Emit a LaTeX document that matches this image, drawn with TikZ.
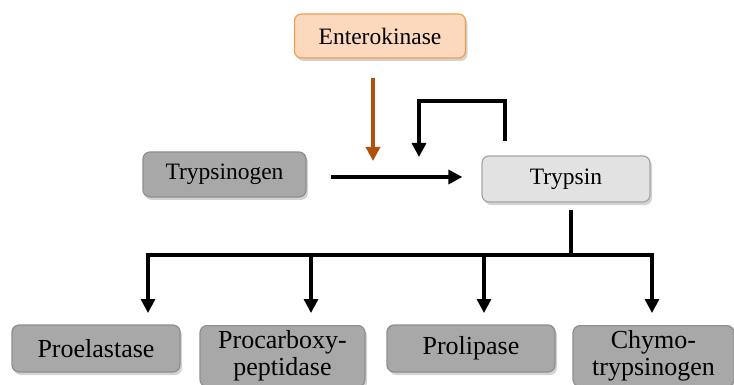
\documentclass[tikz,border=0pt]{standalone}
\usepackage{fontspec}
\setmainfont{Liberation Serif}
\usetikzlibrary{arrows.meta,shadows,positioning}
\definecolor{enfill}{HTML}{FCD8BC}
\definecolor{endraw}{HTML}{EF9F52}
\definecolor{darkbox}{HTML}{A8A8A8}
\definecolor{darkedge}{HTML}{8E8E8E}
\definecolor{lightbox}{HTML}{E2E2E2}
\definecolor{lightedge}{HTML}{A5A5A5}
\definecolor{brownarrow}{HTML}{B0500E}
\tikzset{
  box/.style={draw, line width=1.2pt, rounded corners=7pt, inner sep=0pt, align=center,
    drop shadow={opacity=0.35, shadow xshift=2pt, shadow yshift=-3pt}},
  topbox/.style={box, font=\fontsize{23.5}{27}\selectfont},
  botbox/.style={box, fill=darkbox, draw=darkedge, font=\fontsize{26}{27}\selectfont},
  conn/.style={line width=3.2pt, black, -{Triangle[width=14pt,length=14pt]}},
  plain/.style={line width=3.2pt, black},
}
\begin{document}
\begin{tikzpicture}[x=1pt,y=-1pt]
\path[use as bounding box] (0,0) rectangle (734,385);
\clip (0,0) rectangle (734,385);
\node[topbox, fill=enfill, draw=endraw, minimum width=171pt, minimum height=44pt] (ent) at (380,36) {Enterokinase};
\node[topbox, fill=darkbox, draw=darkedge, minimum width=163pt, minimum height=45pt] (tgen) at (224.5,174.5) {Trypsinogen};
\node[topbox, fill=lightbox, draw=lightedge, minimum width=168pt, minimum height=46pt] (tryp) at (566,179) {Trypsin};
\node[botbox, minimum width=168pt, minimum height=47pt] (pe) at (96,348.5) {Proelastase};
\node[botbox, minimum width=165pt, minimum height=61pt, anchor=north] (pc) at (282.5,325) {Procarboxy-\\peptidase};
\node[botbox, minimum width=168pt, minimum height=47pt] (pl) at (471,348.5) {Prolipase};
\node[botbox, minimum width=161pt, minimum height=61pt, anchor=north] (ch) at (653.5,325) {Chymo-\\trypsinogen};
% enterokinase arrow
\coordinate (es) at (373,78);
\coordinate (ee) at (373,161);
\draw[conn, brownarrow, line width=3.4pt] (es) -- (ee);
% main conversion
\draw[conn, shorten <=24pt, shorten >=19pt] (tgen.east |- 0,177) -- (tryp.west |- 0,177);
% feedback
\coordinate (f1) at (505,141);
\coordinate (f2) at (505,101);
\coordinate (f3) at (419,101);
\coordinate (f4) at (419,157);
\draw[conn] (f1) -- (f2) -- (f3) -- (f4);
% distribution bus
\coordinate (t0) at (571,210);
\coordinate (bus) at (571,255);
\coordinate (b1) at (148,255);
\coordinate (b2) at (311,255);
\coordinate (b3) at (484,255);
\coordinate (b4) at (652,255);
\draw[plain] (t0) -- (bus);
\draw[plain, line cap=rect] (b1) -- (b4);
\draw[conn] (b1) -- (148,313);
\draw[conn] (b2) -- (311,313);
\draw[conn] (b3) -- (484,313);
\draw[conn] (b4) -- (652,313);
\end{tikzpicture}
\end{document}
